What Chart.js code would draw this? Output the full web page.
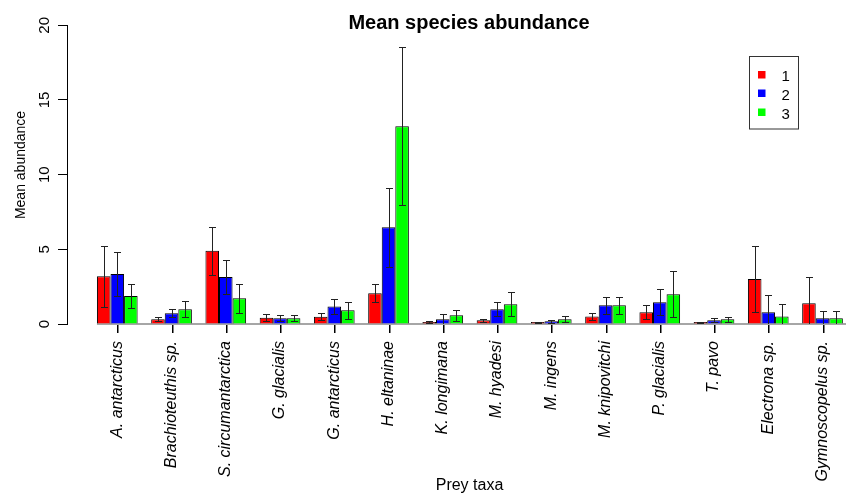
<!DOCTYPE html>
<html>
<head>
<meta charset="utf-8">
<script src="https://cdn.jsdelivr.net/npm/chart.js@4"></script>
<style>
  html, body { margin: 0; padding: 0; background: #fff; }
  #wrap { width: 846px; height: 495px; }
</style>
</head>
<body>
<div id="wrap"><canvas id="abundanceChart" width="846" height="495"></canvas></div>
<script>
// Mean species abundance by prey taxa, groups 1-3
const taxa = ['A. antarcticus', 'Brachioteuthis sp.', 'S. circumantarctica', 'G. glacialis',
  'G. antarcticus', 'H. eltaninae', 'K. longimana', 'M. hyadesi', 'M. ingens',
  'M. knipovitchi', 'P. glacialis', 'T. pavo', 'Electrona sp.', 'Gymnoscopelus sp.'];
const groupNames = ['1', '2', '3'];
const mean1 = [3.2, 0.31, 4.91, 0.42, 0.49, 2.06, 0.13, 0.25, 0.13, 0.51, 0.78, 0.13, 3.01, 1.39];
const err1 = [2.05, 0.13, 1.6, 0.24, 0.22, 0.6, 0.05, 0.1, 0.03, 0.22, 0.47, 0.03, 2.23, 1.78];
const mean2 = [3.35, 0.72, 3.15, 0.38, 1.18, 6.47, 0.31, 0.98, 0.18, 1.25, 1.45, 0.25, 0.78, 0.38];
const err2 = [1.5, 0.27, 1.16, 0.2, 0.5, 2.65, 0.33, 0.47, 0.12, 0.55, 0.87, 0.12, 1.13, 0.47];
const mean3 = [1.87, 0.98, 1.72, 0.38, 0.92, 13.24, 0.58, 1.32, 0.31, 1.25, 1.99, 0.31, 0.51, 0.38];
const err3 = [0.8, 0.53, 0.95, 0.2, 0.57, 5.3, 0.36, 0.8, 0.2, 0.58, 1.53, 0.18, 0.8, 0.47];
const yTicks = [0, 5, 10, 15, 20];

const colors = ['#ff0000', '#0000ff', '#00ff00'];
const FONT = '"Liberation Sans", Arial, Helvetica, sans-serif';

function toPoints(values) {
  return values.map((v, i) => ({ x: i + 1, y: v }));
}

function makeDataset(idx, values, errs) {
  return {
    label: groupNames[idx],
    data: toPoints(values),
    errors: errs,
    backgroundColor: colors[idx],
    borderColor: '#000',
    borderWidth: 1,
    categoryPercentage: 0.75,
    barPercentage: 1.0
  };
}

// R-style extras: baseline, x ticks, error bars, rotated y labels, titles, legend box
const rStyle = {
  id: 'rStyle',
  beforeDatasetsDraw(chart) {
    const { ctx, chartArea, scales: { y } } = chart;
    const firstBar = chart.getDatasetMeta(0).data[0];
    const y0 = y.getPixelForValue(0);
    ctx.save();
    ctx.strokeStyle = '#888';
    ctx.lineWidth = 1.5;
    ctx.beginPath();
    ctx.moveTo(firstBar.x - firstBar.width / 2, y0);
    ctx.lineTo(chartArea.right, y0);
    ctx.stroke();
    ctx.restore();
  },
  afterDatasetsDraw(chart) {
    const { ctx, chartArea, scales: { y } } = chart;
    ctx.save();
    ctx.beginPath();
    ctx.rect(chartArea.left, chartArea.top - 10, chartArea.width, chartArea.height + 10);
    ctx.clip();
    ctx.strokeStyle = '#222';
    ctx.lineWidth = 1;
    chart.data.datasets.forEach((ds, di) => {
      const meta = chart.getDatasetMeta(di);
      meta.data.forEach((bar, i) => {
        const v = ds.data[i].y;
        const e = ds.errors[i];
        const cx = Math.round(bar.x) + 0.5;
        const yHi = Math.round(y.getPixelForValue(v + e)) + 0.5;
        const yLo = Math.round(y.getPixelForValue(v - e)) + 0.5;
        ctx.beginPath();
        ctx.moveTo(cx, yHi);
        ctx.lineTo(cx, yLo);
        ctx.moveTo(cx - 3.5, yHi);
        ctx.lineTo(cx + 3.5, yHi);
        if (v - e >= 0) {
          ctx.moveTo(cx - 3.5, yLo);
          ctx.lineTo(cx + 3.5, yLo);
        }
        ctx.stroke();
      });
    });
    ctx.restore();
  },
  afterDraw(chart) {
    const { ctx, scales: { x, y } } = chart;
    const y0 = Math.round(y.getPixelForValue(0));
    ctx.save();

    // tick marks under each group
    ctx.fillStyle = '#000';
    taxa.forEach((_, i) => {
      ctx.fillRect(Math.round(x.getPixelForValue(i + 1)), y0 + 1, 1.5, 8);
    });

    // y tick labels, rotated like R's las=0
    ctx.font = '15px ' + FONT;
    ctx.textAlign = 'center';
    ctx.textBaseline = 'middle';
    yTicks.forEach(t => {
      ctx.save();
      ctx.translate(44.5, y.getPixelForValue(t));
      ctx.rotate(-Math.PI / 2);
      ctx.fillText(String(t), 0, 0);
      ctx.restore();
    });

    // y axis title
    ctx.font = '14px ' + FONT;
    ctx.save();
    ctx.translate(21.5, 165);
    ctx.rotate(-Math.PI / 2);
    ctx.fillText('Mean abundance', 0, 0);
    ctx.restore();

    // x axis title
    ctx.font = '16px ' + FONT;
    ctx.fillText('Prey taxa', 469.5, 486);

    // main title
    ctx.font = 'bold 20px ' + FONT;
    ctx.textBaseline = 'alphabetic';
    ctx.fillText('Mean species abundance', 469, 28.5);

    // legend box
    ctx.strokeStyle = '#333';
    ctx.lineWidth = 1;
    ctx.strokeRect(749.5, 56.5, 49, 72.5);
    const rowY = [74.5, 93, 112];
    ctx.font = '15px ' + FONT;
    ctx.textAlign = 'left';
    ctx.textBaseline = 'middle';
    chart.data.datasets.forEach((ds, i) => {
      ctx.fillStyle = ds.backgroundColor;
      ctx.fillRect(758, rowY[i] - 3.5, 7.5, 7.5);
      ctx.fillStyle = '#000';
      ctx.fillText(ds.label, 781.5, rowY[i] + 2.5);
    });
    ctx.restore();
  }
};

const ctx = document.getElementById('abundanceChart').getContext('2d');
new Chart(ctx, {
  type: 'bar',
  data: {
    datasets: [
      makeDataset(0, mean1, err1),
      makeDataset(1, mean2, err2),
      makeDataset(2, mean3, err3)
    ]
  },
  options: {
    responsive: false,
    animation: false,
    events: [],
    layout: { padding: { top: 25.3, right: 0, left: 0, bottom: 0 } },
    plugins: {
      legend: { display: false },
      title: { display: false },
      tooltip: { enabled: false }
    },
    scales: {
      x: {
        type: 'linear',
        offset: false,
        min: 0.073,
        max: 14.433,
        afterBuildTicks(scale) {
          scale.ticks = taxa.map((_, i) => ({ value: i + 1 }));
        },
        afterFit(scale) {
          scale.height = 171;
          scale.paddingLeft = 0;
          scale.paddingRight = 0;
        },
        border: { display: false },
        grid: { display: false, drawTicks: false },
        ticks: {
          autoSkip: false,
          minRotation: 90,
          maxRotation: 90,
          padding: 17,
          color: '#000',
          font: { family: FONT, size: 16, style: 'italic' },
          callback: (value) => taxa[Math.round(value) - 1] || ''
        }
      },
      y: {
        min: 0,
        max: 20,
        afterBuildTicks(scale) {
          scale.ticks = yTicks.map(v => ({ value: v }));
        },
        afterFit(scale) {
          scale.width = 67;
          scale.paddingTop = 0;
          scale.paddingBottom = 0;
        },
        border: { display: true, color: '#000', width: 1 },
        grid: { drawOnChartArea: false, drawTicks: true, tickLength: 9, color: '#000' },
        ticks: { display: false }
      }
    }
  },
  plugins: [rStyle]
});
</script>
</body>
</html>
